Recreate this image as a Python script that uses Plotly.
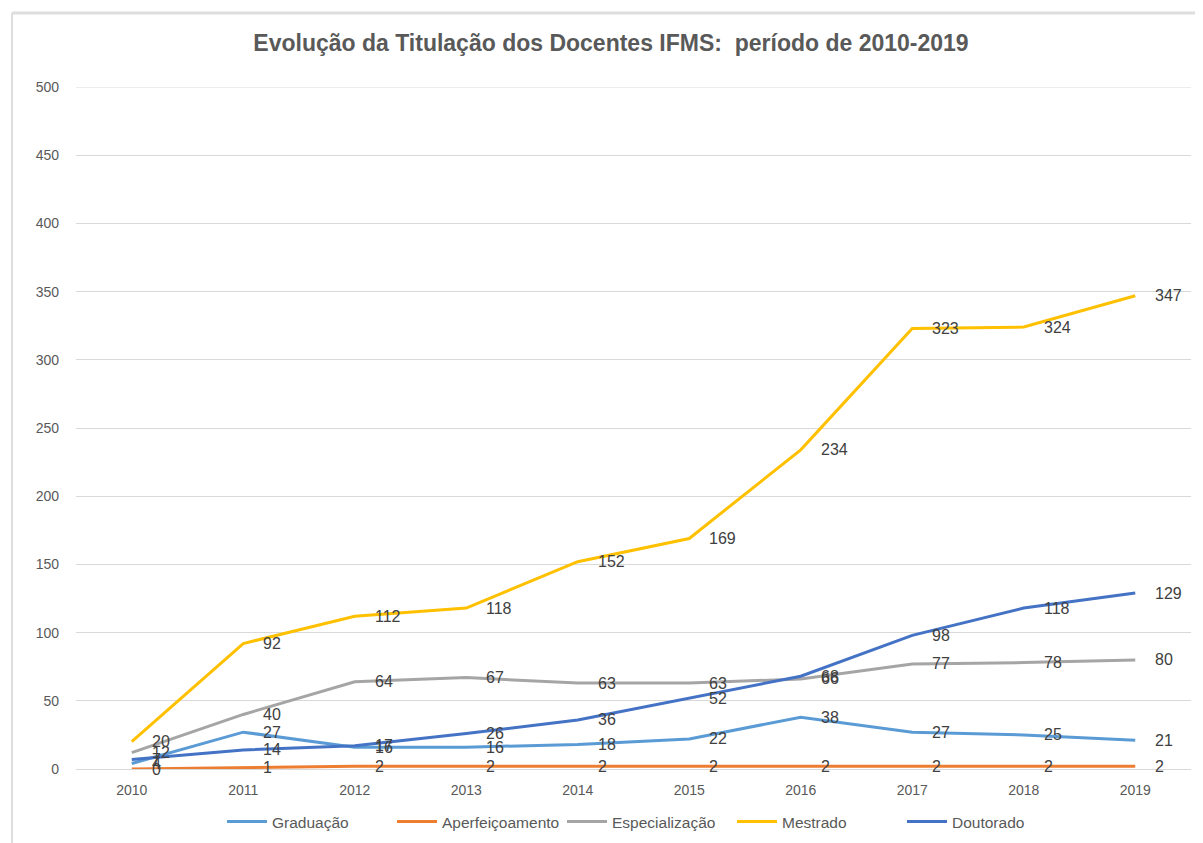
import plotly.graph_objects as go

years = ["2010", "2011", "2012", "2013", "2014", "2015", "2016", "2017", "2018", "2019"]
graduacao = [4, 27, 16, 16, 18, 22, 38, 27, 25, 21]
aperfeicoamento = [0, 1, 2, 2, 2, 2, 2, 2, 2, 2]
especializacao = [12, 40, 64, 67, 63, 63, 66, 77, 78, 80]
mestrado = [20, 92, 112, 118, 152, 169, 234, 323, 324, 347]
doutorado = [7, 14, 17, 26, 36, 52, 68, 98, 118, 129]

series = [
    ("Graduação", graduacao, "#5B9BD5"),
    ("Aperfeiçoamento", aperfeicoamento, "#ED7D31"),
    ("Especialização", especializacao, "#A5A5A5"),
    ("Mestrado", mestrado, "#FFC000"),
    ("Doutorado", doutorado, "#4472C4"),
]

font_family = "Liberation Sans, Arial"

# page is offset by the default 8px body margin
OFF = 8
W, H = 1203, 843
L, R, T, B = 76 - OFF, W - (1191 - OFF), 87 - OFF, H - (769 - OFF)
plot_h = H - T - B
plot_w = W - L - R


def py(page_y):
    return (H - B - (page_y - OFF)) / plot_h


def px_(page_x):
    return (page_x - OFF - L) / plot_w


fig = go.Figure()
annotations = []
for name, vals, color in series:
    fig.add_trace(go.Scatter(
        x=years, y=vals, mode="lines", name=name,
        line=dict(color=color, width=3),
    ))
    for i, v in enumerate(vals):
        annotations.append(dict(
            x=i, y=v, xref="x", yref="y", text=str(v), showarrow=False,
            xanchor="left", yanchor="middle", xshift=18,
            font=dict(family=font_family, size=16, color="#404040"),
        ))

fig.update_layout(
    width=W, height=H,
    margin=dict(l=L, r=R, t=T, b=B, autoexpand=False),
    paper_bgcolor="white", plot_bgcolor="white",
    title=dict(
        text="<b>Evolução da Titulação dos Docentes IFMS:  período de 2010-2019</b>",
        x=(611 - OFF) / W, xanchor="center", y=1 - (43 - OFF) / H, yanchor="middle",
        font=dict(family=font_family, size=23, color="#595959"),
    ),
    xaxis=dict(
        type="category", range=[-0.5, 9.5], showgrid=False, showline=True,
        linecolor="#D9D9D9", linewidth=1, ticks="", zeroline=False,
        tickfont=dict(family=font_family, size=14, color="#595959"),
        ticklabelstandoff=8,
    ),
    yaxis=dict(
        range=[0, 500], dtick=50, showgrid=True, gridcolor="#D9D9D9",
        gridwidth=1, zeroline=False, showline=False, ticks="",
        tickfont=dict(family=font_family, size=14, color="#595959"),
        ticklabelstandoff=16,
    ),
    legend=dict(
        orientation="h", xref="paper", x=px_(222), xanchor="left",
        y=py(822), yanchor="middle",
        font=dict(family=font_family, size=15.5, color="#595959"),
        itemwidth=40, entrywidth=115, entrywidthmode="pixels",
    ),
    annotations=annotations,
    shapes=[
        dict(type="line", xref="paper", yref="y", x0=0, x1=1, y0=500, y1=500,
             line=dict(color="#D9D9D9", width=1), layer="below"),
        dict(type="line", xref="paper", yref="paper", x0=px_(12), x1=px_(1210), y0=py(13), y1=py(13),
             line=dict(color="#DEDEDE", width=3)),
        dict(type="line", xref="paper", yref="paper", x0=px_(12), x1=px_(12), y0=py(850), y1=py(13),
             line=dict(color="#DEDEDE", width=2)),
    ],
)

fig.write_html("out.html")
